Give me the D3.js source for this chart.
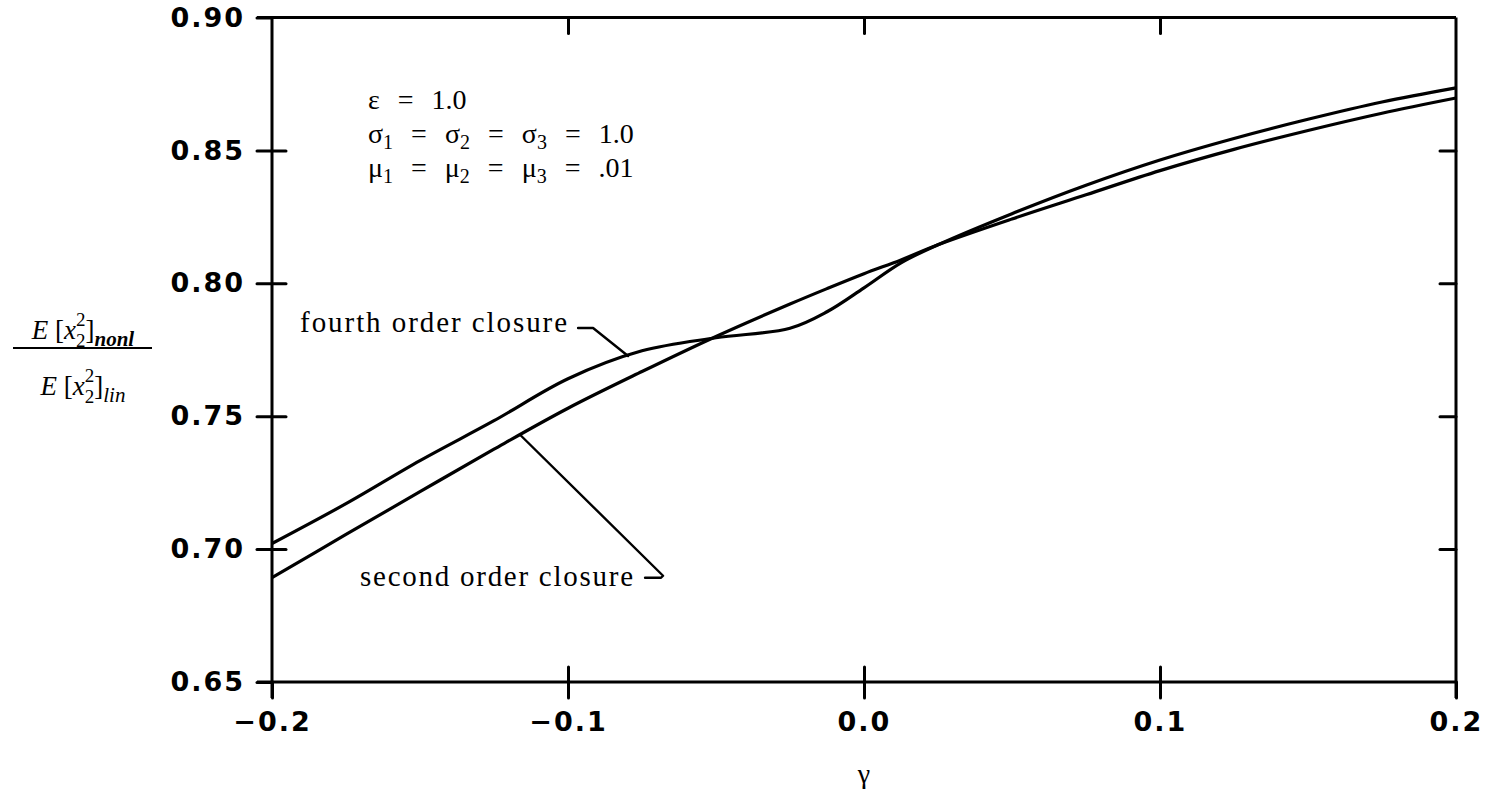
<!DOCTYPE html>
<html>
<head>
<meta charset="utf-8">
<script src="https://cdn.jsdelivr.net/npm/d3@7"></script>
<style>
  html, body { margin: 0; padding: 0; background: #fff; }
  svg { display: block; }
</style>
</head>
<body>
<svg id="chart" width="1498" height="793"></svg>
<script>
// Ratio of nonlinear to linear mean-square response vs. gamma
const gamma = [-0.2, -0.175, -0.15, -0.125, -0.1, -0.075, -0.05, -0.025, -0.0125, 0,
               0.0125, 0.025, 0.05, 0.075, 0.1, 0.125, 0.15, 0.175, 0.2];
const secondOrder = [0.6893, 0.7055, 0.7216, 0.7376, 0.7530, 0.7668, 0.7800, 0.7922, 0.7980, 0.8036,
                     0.8088, 0.8145, 0.8242, 0.8333, 0.8424, 0.8504, 0.8575, 0.8640, 0.8697];
const fourthOrder = [0.7021, 0.7171, 0.7333, 0.7483, 0.7641, 0.7746, 0.7795, 0.7831, 0.7893, 0.7983,
                     0.8077, 0.8145, 0.8262, 0.8369, 0.8464, 0.8545, 0.8617, 0.8682, 0.8735];

const xTicks = [-0.2, -0.1, 0.0, 0.1, 0.2];
const yTicks = [0.65, 0.70, 0.75, 0.80, 0.85, 0.90];
const xDomain = [-0.2, 0.2];
const yDomain = [0.65, 0.90];

// gamma positions where the label leaders touch each curve
const fourthLabelAt = -0.0797;
const secondLabelAt = -0.1162;

const svg = d3.select("#chart");
const plotL = 272, plotR = 1456, plotT = 17.5, plotB = 682;

const x = d3.scaleLinear().domain(xDomain).range([plotL, plotR]);
const y = d3.scaleLinear().domain(yDomain).range([plotB, plotT]);

const tickFont = "'DejaVu Sans', sans-serif";
const serif = "'Liberation Serif', 'Times New Roman', serif";

function styleAxis(g, labels) {
  g.select(".domain").remove();
  g.selectAll(".tick line").attr("stroke", "#000").attr("stroke-width", 3).attr("stroke-linecap", "round");
  if (!labels) g.selectAll(".tick text").remove();
  else g.selectAll(".tick text")
        .attr("fill", "#000")
        .style("font-family", tickFont)
        .style("font-weight", "bold")
        .style("font-size", "27px")
        .style("letter-spacing", "2px");
}

// left axis: outward ticks with labels, plus inward ticks
svg.append("g").attr("transform", `translate(${plotL},0)`)
  .call(d3.axisLeft(y).tickValues(yTicks).tickFormat(d3.format(".2f")).tickSize(15).tickPadding(12))
  .call(g => styleAxis(g, true));
svg.append("g").attr("transform", `translate(${plotL},0)`)
  .call(d3.axisRight(y).tickValues(yTicks.slice(1, -1)).tickSize(14))
  .call(g => styleAxis(g, false));
// right axis: inward ticks
svg.append("g").attr("transform", `translate(${plotR},0)`)
  .call(d3.axisLeft(y).tickValues(yTicks.slice(1, -1)).tickSize(16))
  .call(g => styleAxis(g, false));
// bottom axis: outward ticks with labels, plus inward ticks
svg.append("g").attr("transform", `translate(0,${plotB})`)
  .call(d3.axisBottom(x).tickValues(xTicks).tickFormat(d3.format(".1f")).tickSize(16).tickPadding(14))
  .call(g => styleAxis(g, true));
svg.append("g").attr("transform", `translate(0,${plotB})`)
  .call(d3.axisTop(x).tickValues(xTicks.slice(1, -1)).tickSize(15))
  .call(g => styleAxis(g, false));
// top axis: inward ticks
svg.append("g").attr("transform", `translate(0,${plotT})`)
  .call(d3.axisBottom(x).tickValues(xTicks.slice(1, -1)).tickSize(16))
  .call(g => styleAxis(g, false));

// frame
const frame = svg.append("g").attr("stroke", "#000").attr("stroke-width", 3).attr("fill", "none");
frame.append("line").attr("x1", plotL - 15).attr("x2", plotR).attr("y1", plotT).attr("y2", plotT);
frame.append("line").attr("x1", plotL - 15).attr("x2", plotR).attr("y1", plotB).attr("y2", plotB);
frame.append("line").attr("x1", plotL).attr("x2", plotL).attr("y1", plotT).attr("y2", plotB + 16);
frame.append("line").attr("x1", plotR).attr("x2", plotR).attr("y1", plotT).attr("y2", plotB + 16);

// curves
const line = d3.line().curve(d3.curveCatmullRom.alpha(0.5))
  .x(d => x(d[0])).y(d => y(d[1]));
const series = [
  { name: "second", values: secondOrder },
  { name: "fourth", values: fourthOrder }
];
svg.append("g").selectAll("path").data(series).join("path")
  .attr("d", s => line(gamma.map((g, i) => [g, s.values[i]])))
  .attr("fill", "none").attr("stroke", "#000").attr("stroke-width", 3.2)
  .attr("stroke-linejoin", "round");

// value of a series at an arbitrary gamma (linear between samples)
function valueAt(values, g) {
  const i = Math.max(1, Math.min(gamma.length - 1, d3.bisectLeft(gamma, g)));
  const t = (g - gamma[i - 1]) / (gamma[i] - gamma[i - 1]);
  return values[i - 1] + t * (values[i] - values[i - 1]);
}

// curve labels with leaders
const lead = svg.append("g").attr("stroke", "#000").attr("stroke-width", 2.4).attr("fill", "none")
  .attr("stroke-linejoin", "round").attr("stroke-linecap", "round");

const fx = x(fourthLabelAt), fy = y(valueAt(fourthOrder, fourthLabelAt));
lead.append("path").attr("d", `M${fx},${fy} L${fx - 35},${fy - 28} L${fx - 50},${fy - 28}`);
svg.append("text").attr("x", fx - 61).attr("y", fy - 24)
  .attr("text-anchor", "end").attr("textLength", 267).attr("lengthAdjust", "spacing")
  .style("font-family", serif).style("font-size", "29px").text("fourth order closure");

const sx = x(secondLabelAt), sy = y(valueAt(secondOrder, secondLabelAt));
lead.append("path").attr("d", `M${sx},${sy} L${sx + 143},${sy + 141} L${sx + 141},${sy + 143} L${sx + 125},${sy + 143}`);
svg.append("text").attr("x", sx + 113).attr("y", sy + 151)
  .attr("text-anchor", "end").attr("textLength", 273).attr("lengthAdjust", "spacing")
  .style("font-family", serif).style("font-size", "29px").text("second order closure");

// parameter block
const params = svg.append("g").style("font-family", serif).style("font-size", "28px")
  .style("word-spacing", "11px");
params.append("text").attr("x", 368).attr("y", 109).text("ε = 1.0");
function subLine(yPos, sym, tail) {
  const t = params.append("text").attr("x", 368).attr("y", yPos);
  [1, 2, 3].forEach((k, i) => {
    t.append("tspan").text(sym);
    t.append("tspan").attr("dy", 6).style("font-size", "20px").text(k);
    t.append("tspan").attr("dy", -6).text(i < 2 ? " = " : " = " + tail);
  });
}
subLine(143, "σ", "1.0");
subLine(177, "μ", ".01");

// x axis title
svg.append("text").attr("x", x(0)).attr("y", 783).attr("text-anchor", "middle")
  .style("font-family", serif).style("font-size", "28px").text("γ");

// y axis title: stacked fraction
const yt = svg.append("g").style("font-family", serif).style("font-size", "27px");
function fracRow(yPos, sub, bold) {
  const t = yt.append("text").attr("x", 83).attr("y", yPos).attr("text-anchor", "middle");
  t.append("tspan").style("font-style", "italic").text("E");
  t.append("tspan").text(" [");
  t.append("tspan").style("font-style", "italic").text("x");
  t.append("tspan").attr("dy", -13).style("font-size", "19px").text("2");
  t.append("tspan").attr("dx", -9.5).attr("dy", 21).style("font-size", "19px").text("2");
  t.append("tspan").attr("dy", -8).text("]");
  t.append("tspan").attr("dy", 7).style("font-size", "21px").style("font-style", "italic")
    .style("font-weight", bold ? "bold" : "normal").text(sub);
}
fracRow(339, "nonl", true);
fracRow(395, "lin", false);
yt.append("line").attr("x1", 13).attr("x2", 152).attr("y1", 348).attr("y2", 348)
  .attr("stroke", "#000").attr("stroke-width", 2);
</script>
</body>
</html>
